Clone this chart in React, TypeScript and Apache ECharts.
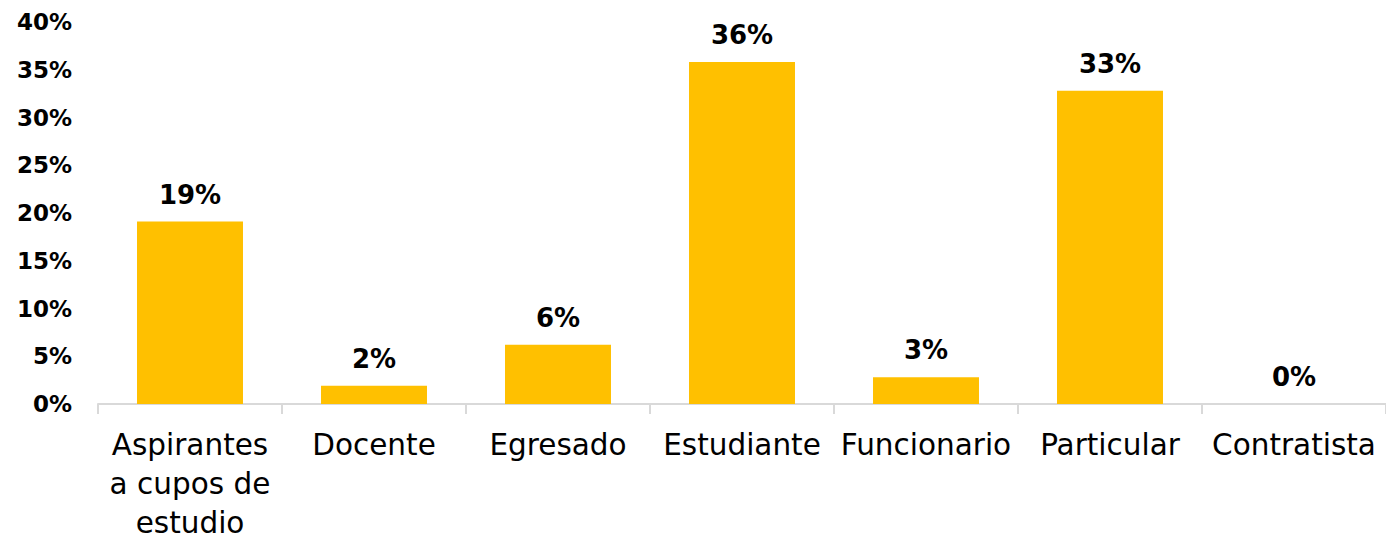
import React, { useEffect, useRef } from "react";
import * as echarts from "echarts";

const categories = [
  "Aspirantes\na cupos de\nestudio",
  "Docente",
  "Egresado",
  "Estudiante",
  "Funcionario",
  "Particular",
  "Contratista",
];
const values = [19.1, 1.9, 6.2, 35.8, 2.8, 32.8, 0];
const yTicks = { min: 0, max: 40, interval: 5 };

export default function App() {
  const ref = useRef<HTMLDivElement>(null);
  useEffect(() => {
    if (!ref.current) return;
    const chart = echarts.init(ref.current, null, { renderer: "svg" });
    chart.setOption({
      animation: false,
      grid: { left: 98, right: 0, top: 22, bottom: 136 },
      xAxis: {
        type: "category",
        data: categories,
        axisLine: { lineStyle: { color: "#d9d9d9", width: 2 } },
        axisTick: { show: true, length: 10, lineStyle: { color: "#d9d9d9", width: 2 } },
        axisLabel: {
          interval: 0,
          margin: 21,
          color: "#000",
          fontFamily: "DejaVu Sans",
          fontSize: 29.5,
          lineHeight: 39,
        },
      },
      yAxis: {
        type: "value",
        min: yTicks.min,
        max: yTicks.max,
        interval: yTicks.interval,
        splitLine: { show: false },
        axisLine: { show: false },
        axisTick: { show: false },
        axisLabel: {
          margin: 26,
          color: "#000",
          fontFamily: "DejaVu Sans",
          fontWeight: "bold",
          fontSize: 23,
          formatter: (v: number) => `${v}%`,
        },
      },
      series: [
        {
          type: "bar",
          data: values,
          barWidth: "57.6%",
          itemStyle: { color: "#FFC000" },
          label: {
            show: true,
            position: "top",
            distance: 14,
            color: "#000",
            fontFamily: "DejaVu Sans",
            fontWeight: "bold",
            fontSize: 26,
            formatter: (p: any) => `${Math.round(p.value)}%`,
          },
        },
      ],
    });
    return () => chart.dispose();
  }, []);
  return (
    <div
      ref={ref}
      style={{ position: "absolute", left: 0, top: 0, width: 1386, height: 542 }}
    />
  );
}
